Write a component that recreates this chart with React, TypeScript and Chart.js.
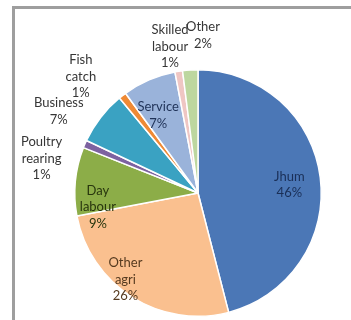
import React, { useEffect, useRef } from "react";
import { Chart, registerables } from "chart.js";

Chart.register(...registerables);

const categories = [
  "Jhum",
  "Other agri",
  "Day labour",
  "Poultry rearing",
  "Business",
  "Fish catch",
  "Service",
  "Skilled labour",
  "Other",
];
const values = [46, 26, 9, 1, 7, 1, 7, 1, 2];
const sliceColors = [
  "#4b77b6",
  "#fac08f",
  "#8cad48",
  "#7d62a0",
  "#3aa2c2",
  "#ef8a35",
  "#9ab3da",
  "#efc6c3",
  "#bdd79f",
];
const labelColors = [
  "#1a2f57",
  "#553a1f",
  "#28360e",
  "#363636",
  "#363636",
  "#363636",
  "#1f3257",
  "#363636",
  "#363636",
];
// radial distance (fraction of radius) and angular nudge (degrees) for each label
const labelRadius = [0.744, 0.916, 0.82, 1.3, 1.31, 1.34, 0.71, 1.21, 1.28];
const labelShift = [2.2, 7.6, -13.3, -10.9, -7.4, -7.4, -3.7, -1.8, 5.4];

const FONT = "Lato, 'Open Sans', sans-serif";

const labelPlugin = {
  id: "sliceLabels",
  afterDatasetsDraw(chart: any) {
    const ctx = chart.ctx;
    const meta = chart.getDatasetMeta(0);
    ctx.save();
    ctx.font = `13px ${FONT}`;
    ctx.textAlign = "center";
    ctx.textBaseline = "middle";
    const lineH = 16.5;
    meta.data.forEach((arc: any, i: number) => {
      const p = arc.getProps(["x", "y", "startAngle", "endAngle", "outerRadius"], true);
      const mid = (p.startAngle + p.endAngle) / 2 + (labelShift[i] * Math.PI) / 180;
      const r = p.outerRadius * labelRadius[i];
      const cx = p.x + Math.cos(mid) * r;
      const cy = p.y + Math.sin(mid) * r;
      const lines = [...categories[i].split(" "), `${values[i]}%`];
      const top = cy - ((lines.length - 1) * lineH) / 2;
      ctx.fillStyle = labelColors[i];
      lines.forEach((t, k) => ctx.fillText(t, cx, top + k * lineH));
    });
    ctx.restore();
  },
};

export default function App() {
  const ref = useRef<HTMLCanvasElement>(null);
  useEffect(() => {
    if (!ref.current) return;
    const chart = new Chart(ref.current, {
      type: "pie",
      data: {
        labels: categories,
        datasets: [
          {
            data: values,
            backgroundColor: sliceColors,
            borderColor: "#ffffff",
            borderWidth: 1.5,
            hoverOffset: 0,
          },
        ],
      },
      options: {
        animation: false,
        responsive: false,
        events: [],
        layout: { padding: { left: 74, right: 29, top: 69, bottom: 3 } },
        plugins: {
          legend: { display: false },
          tooltip: { enabled: false },
        },
      },
      plugins: [labelPlugin],
    });
    return () => chart.destroy();
  }, []);
  return (
    <div
      style={{
        position: "fixed",
        left: 0,
        top: 0,
        width: 351,
        height: 320,
        overflow: "hidden",
        background: "#ffffff",
      }}
    >
      <div
        style={{
          position: "absolute",
          left: 12,
          top: 6,
          width: 400,
          height: 400,
          borderTop: "3px solid #9e9e9e",
          borderLeft: "3px solid #9e9e9e",
          boxSizing: "border-box",
        }}
      />
      <canvas
        ref={ref}
        width={351}
        height={320}
        style={{ position: "absolute", left: 0, top: 0, width: 351, height: 320 }}
      />
    </div>
  );
}
